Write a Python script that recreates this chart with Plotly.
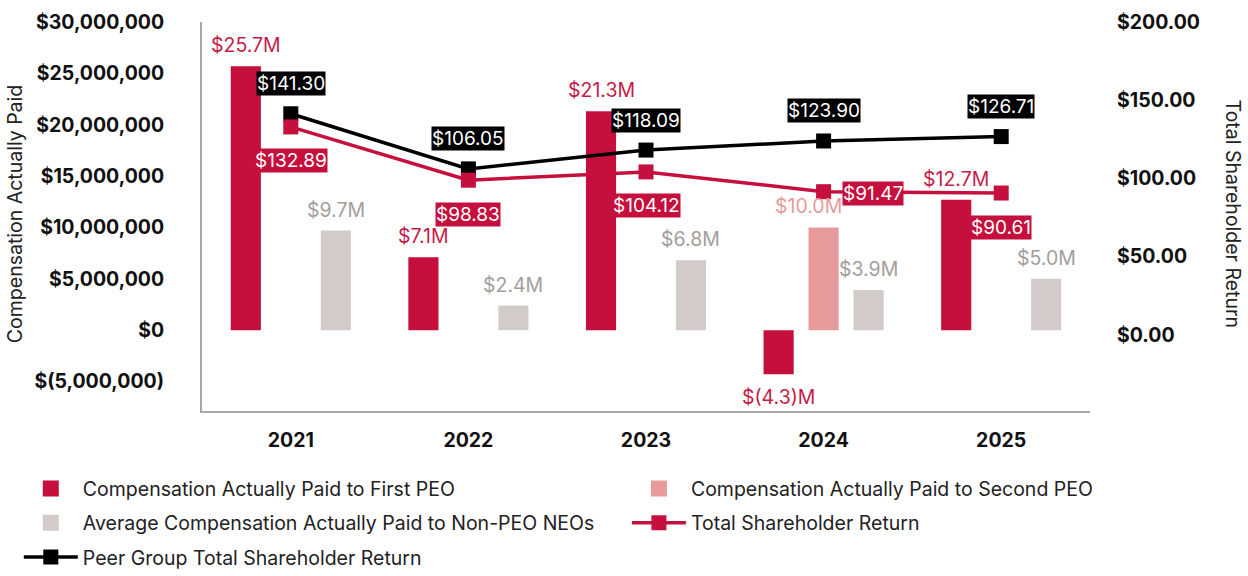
import plotly.graph_objects as go

# ---------------- data ----------------
years = ["2021", "2022", "2023", "2024", "2025"]
cap_first_peo = [25.7e6, 7.1e6, 21.3e6, -4.3e6, 12.7e6]
cap_second_peo = [None, None, None, 10.0e6, None]
cap_non_peo = [9.7e6, 2.4e6, 6.8e6, 3.9e6, 5.0e6]
tsr = [132.89, 98.83, 104.12, 91.47, 90.61]
peer_tsr = [141.30, 106.05, 118.09, 123.90, 126.71]

left_tickvals = [-5e6, 0, 5e6, 10e6, 15e6, 20e6, 25e6, 30e6]
left_ticktext = ["$(5,000,000)", "$0", "$5,000,000", "$10,000,000",
                 "$15,000,000", "$20,000,000", "$25,000,000", "$30,000,000"]
right_tickvals = [-50, 0, 50, 100, 150, 200]
right_ticktext = ["$(50.00)", "$0.00", "$50.00", "$100.00", "$150.00", "$200.00"]

# ---------------- style ----------------
FONT = "Inter"
CRIMSON = "#C50F3C"
CRIMSON_TXT = "#C41C4A"
PINK = "#E89A9B"
GRAY = "#D3CBCA"
GRAY_TXT = "#A39D9C"
BLACK = "#000000"
AXIS = "#A8A8A8"
FS = 19.5

BARGAP = 0.24
SLOT = (1 - BARGAP) / 3

fig = go.Figure()

bar_series = [
    ("Compensation Actually Paid to First PEO", cap_first_peo, CRIMSON, CRIMSON_TXT, -SLOT),
    ("Compensation Actually Paid to Second PEO", cap_second_peo, PINK, PINK, 0.0),
    ("Average Compensation Actually Paid to Non-PEO NEOs", cap_non_peo, GRAY, GRAY_TXT, SLOT),
]
for name, vals, col, _, _ in bar_series:
    fig.add_trace(go.Bar(x=years, y=vals, name=name, marker=dict(color=col, line=dict(width=0)),
                         showlegend=False, yaxis="y"))

# legend-only square swatches for the bar series
fig.add_trace(go.Scatter(x=[None], y=[None], mode="markers", name=bar_series[0][0],
                         marker=dict(symbol="square", size=16, color=CRIMSON),
                         legend="legend", legendgroup="a", legendrank=1))
fig.add_trace(go.Scatter(x=[None], y=[None], mode="markers", name=bar_series[2][0],
                         marker=dict(symbol="square", size=16, color=GRAY),
                         legend="legend", legendgroup="b", legendrank=2))
fig.add_trace(go.Scatter(x=[None], y=[None], mode="markers", name=bar_series[1][0],
                         marker=dict(symbol="square", size=16, color=PINK),
                         legend="legend2", legendgroup="d", legendrank=1))

fig.add_trace(go.Scatter(x=years, y=peer_tsr, name="Peer Group Total Shareholder Return",
                         mode="lines+markers", line=dict(color=BLACK, width=3.5),
                         marker=dict(symbol="square", size=15, color=BLACK),
                         yaxis="y2", legend="legend", legendgroup="c", legendrank=3))
fig.add_trace(go.Scatter(x=years, y=tsr, name="Total Shareholder Return",
                         mode="lines+markers", line=dict(color=CRIMSON, width=3.5),
                         marker=dict(symbol="square", size=15, color=CRIMSON),
                         yaxis="y2", legend="legend2", legendgroup="e", legendrank=2))

annotations = []
# bar value labels
for name, vals, col, txtcol, off in bar_series:
    for i, v in enumerate(vals):
        if v is None:
            continue
        m = v / 1e6
        txt = f"${m:.1f}M" if m >= 0 else f"$({abs(m):.1f})M"
        xs = -15 if (off == 0.0) else 0
        annotations.append(dict(x=i + off, y=v, xref="x", yref="y", text=txt,
                                showarrow=False, yshift=21 if v >= 0 else -23,
                                xshift=xs, font=dict(family=FONT, size=FS, color=txtcol)))
# peer TSR labels (above)
for i, v in enumerate(peer_tsr):
    annotations.append(dict(x=i, y=v, xref="x", yref="y2", text=f"${v:.2f}",
                            showarrow=False, yshift=30, bgcolor=BLACK, borderpad=0,
                            font=dict(family=FONT, size=19, color="white")))
# company TSR labels (below, 2024 to the right)
for i, v in enumerate(tsr):
    if i == 3:
        xs, ys = 49, -2
    else:
        xs, ys = 0, -34
    annotations.append(dict(x=i, y=v, xref="x", yref="y2", text=f"${v:.2f}",
                            showarrow=False, yshift=ys, xshift=xs, bgcolor=CRIMSON, borderpad=0,
                            font=dict(family=FONT, size=19, color="white")))
# axis titles
annotations.append(dict(x=-0.211, y=0.505, xref="paper", yref="paper", text="Compensation Actually Paid",
                        textangle=-90, showarrow=False, xanchor="center", yanchor="middle",
                        font=dict(family=FONT, size=FS, color="#222222")))
annotations.append(dict(x=1.161, y=0.505, xref="paper", yref="paper", text="Total Shareholder Return",
                        textangle=90, showarrow=False, xanchor="center", yanchor="middle",
                        font=dict(family=FONT, size=FS, color="#222222")))

tickfont = dict(family=FONT, size=FS, color="#111111", weight="bold")
legend_common = dict(orientation="v", xanchor="left", yanchor="top",
                     itemwidth=54, tracegroupgap=6,
                     font=dict(family=FONT, size=FS, color="#222222"),
                     bgcolor="rgba(0,0,0,0)", itemclick=False, itemdoubleclick=False)

fig.update_layout(
    width=1248, height=576,
    margin=dict(l=202, r=158, t=22, b=165, autoexpand=False),
    paper_bgcolor="white", plot_bgcolor="white",
    barmode="group", bargap=BARGAP, bargroupgap=0.33,
    font=dict(family=FONT, size=FS, color="#222222"),
    xaxis=dict(type="category", range=[-0.5, 4.5], showline=True, linecolor=AXIS, linewidth=2,
               showgrid=False, ticks="", tickfont=tickfont, ticklabelstandoff=11),
    yaxis=dict(range=[-7.87e6, 30e6], tickvals=left_tickvals, ticktext=left_ticktext,
               showgrid=False, zeroline=False, showline=True, linecolor=AXIS, linewidth=2,
               ticks="", tickfont=tickfont, ticklabelstandoff=32),
    yaxis2=dict(range=[-48.8, 200], tickvals=right_tickvals, ticktext=right_ticktext,
                overlaying="y", side="right", showgrid=False, zeroline=False, showline=False,
                ticks="", tickfont=tickfont, ticklabelstandoff=26),
    legend=dict(legend_common, x=-0.2063, y=-0.1497),
    legend2=dict(legend_common, x=0.4785, y=-0.1497),
    annotations=annotations,
    showlegend=True,
)

fig.write_html("out.html", config={"displayModeBar": False},
               post_script="document.body.style.margin='0';document.body.style.overflow='hidden';")
